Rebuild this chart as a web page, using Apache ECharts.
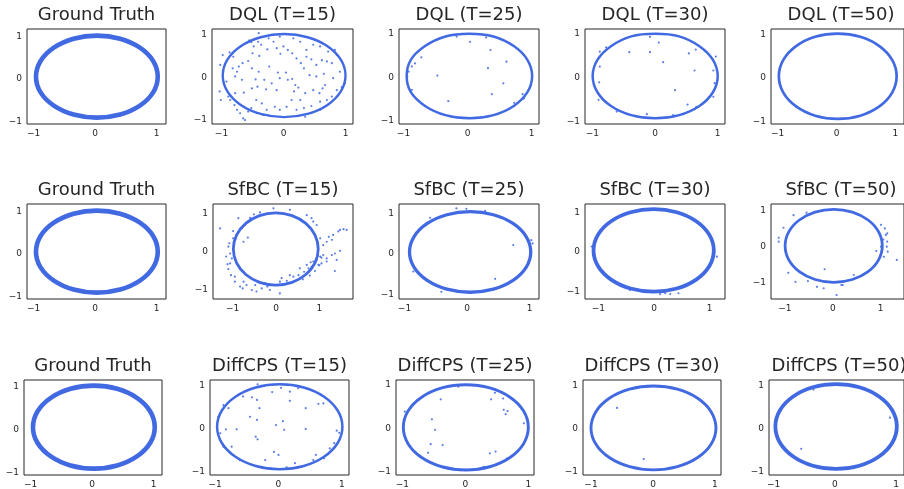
<!DOCTYPE html>
<html><head><meta charset="utf-8">
<script src="https://cdn.jsdelivr.net/npm/echarts@6/dist/echarts.min.js"></script>
<style>html,body{margin:0;padding:0;background:#fff}#c{width:904px;height:489px}</style>
</head><body><div id="c"></div>
<script>
const titles = ['Ground Truth','DQL (T=15)','DQL (T=25)','DQL (T=30)','DQL (T=50)',
  'Ground Truth','SfBC (T=15)','SfBC (T=25)','SfBC (T=30)','SfBC (T=50)',
  'Ground Truth','DiffCPS (T=15)','DiffCPS (T=25)','DiffCPS (T=30)','DiffCPS (T=50)'];
const tickValues = [-1, 0, 1];

// ring centre-lines
const ring_GT = [[1.02,0.055],[0.945,0.425],[0.73,0.737],[0.409,0.947],[0.03,1.02],[-0.349,0.947],[-0.67,0.737],[-0.885,0.425],[-0.96,0.055],[-0.885,-0.315],[-0.67,-0.627],[-0.349,-0.837],[0.03,-0.91],[0.409,-0.837],[0.73,-0.627],[0.945,-0.315]];
const ring_DQL15 = [[1.0,0.04],[0.925,0.411],[0.71,0.726],[0.389,0.936],[0.01,1.01],[-0.369,0.936],[-0.69,0.726],[-0.905,0.411],[-0.98,0.04],[-0.905,-0.331],[-0.69,-0.646],[-0.369,-0.856],[0.01,-0.93],[0.389,-0.856],[0.71,-0.646],[0.925,-0.331]];
const ring_DQL25 = [[1.01,0.03],[0.936,0.404],[0.723,0.721],[0.405,0.942],[0.03,1.007],[-0.345,0.942],[-0.663,0.721],[-0.885,0.404],[-0.95,0.03],[-0.885,-0.344],[-0.663,-0.661],[-0.345,-0.873],[0.03,-0.947],[0.405,-0.873],[0.723,-0.661],[0.936,-0.344]];
const ring_DQL30 = [[1.0,0.033],[0.924,0.403],[0.708,0.717],[0.385,0.942],[0.003,1.0],[-0.379,0.942],[-0.702,0.717],[-0.918,0.403],[-0.994,0.033],[-0.918,-0.337],[-0.702,-0.651],[-0.379,-0.861],[0.003,-0.934],[0.385,-0.861],[0.708,-0.651],[0.924,-0.337]];
const ring_DQL50 = [[1.02,0.04],[0.944,0.417],[0.727,0.736],[0.403,0.95],[0.02,1.025],[-0.363,0.95],[-0.687,0.736],[-0.904,0.417],[-0.98,0.04],[-0.904,-0.337],[-0.687,-0.656],[-0.363,-0.87],[0.02,-0.945],[0.403,-0.87],[0.727,-0.656],[0.944,-0.337]];
const ring_SfBC15 = [[0.975,0.08],[0.901,0.444],[0.688,0.752],[0.37,0.958],[-0.005,1.03],[-0.38,0.958],[-0.698,0.752],[-0.911,0.444],[-0.985,0.08],[-0.911,-0.284],[-0.698,-0.592],[-0.38,-0.798],[-0.005,-0.87],[0.37,-0.798],[0.688,-0.592],[0.901,-0.284]];
const ring_SfBC25 = [[1.02,0.05],[0.946,0.429],[0.736,0.75],[0.422,0.965],[0.05,1.04],[-0.322,0.965],[-0.636,0.75],[-0.846,0.429],[-0.92,0.05],[-0.846,-0.329],[-0.636,-0.65],[-0.322,-0.865],[0.05,-0.94],[0.422,-0.865],[0.736,-0.65],[0.946,-0.329]];
const ring_SfBC30 = [[1.074,0.04],[0.992,0.442],[0.758,0.782],[0.408,1.01],[-0.006,1.09],[-0.42,1.01],[-0.77,0.782],[-1.004,0.442],[-1.086,0.04],[-1.004,-0.362],[-0.77,-0.702],[-0.42,-0.93],[-0.006,-1.01],[0.408,-0.93],[0.758,-0.702],[0.992,-0.362]];
const ring_SfBC50 = [[1.037,0.025],[0.96,0.416],[0.739,0.746],[0.41,0.967],[0.02,1.045],[-0.37,0.967],[-0.699,0.746],[-0.92,0.416],[-0.997,0.025],[-0.92,-0.366],[-0.699,-0.696],[-0.37,-0.917],[0.02,-0.995],[0.41,-0.917],[0.739,-0.696],[0.96,-0.366]];
const ring_DiffCPS15 = [[1.01,0.04],[0.935,0.415],[0.72,0.733],[0.399,0.946],[0.02,1.02],[-0.359,0.946],[-0.68,0.733],[-0.895,0.415],[-0.97,0.04],[-0.895,-0.335],[-0.68,-0.653],[-0.359,-0.866],[0.02,-0.94],[0.399,-0.866],[0.72,-0.653],[0.935,-0.335]];
const ring_DiffCPS25 = [[1.0,0.027],[0.925,0.402],[0.709,0.72],[0.388,0.933],[0.008,1.007],[-0.372,0.933],[-0.693,0.72],[-0.909,0.402],[-0.984,0.027],[-0.909,-0.348],[-0.693,-0.666],[-0.372,-0.879],[0.008,-0.953],[0.388,-0.879],[0.709,-0.666],[0.925,-0.348]];
const ring_DiffCPS30 = [[1.016,0.025],[0.939,0.398],[0.721,0.714],[0.394,0.926],[0.008,1.0],[-0.378,0.926],[-0.705,0.714],[-0.923,0.398],[-1.0,0.025],[-0.923,-0.348],[-0.705,-0.664],[-0.378,-0.876],[0.008,-0.95],[0.394,-0.876],[0.721,-0.664],[0.939,-0.348]];
const ring_DiffCPS50 = [[1.012,0.046],[0.937,0.421],[0.721,0.739],[0.4,0.952],[0.02,1.026],[-0.36,0.952],[-0.681,0.739],[-0.897,0.421],[-0.972,0.046],[-0.897,-0.329],[-0.681,-0.647],[-0.36,-0.86],[0.02,-0.934],[0.4,-0.86],[0.721,-0.647],[0.937,-0.329]];

// stray samples
const out_DQL15 = [[-0.40,1.03],[-0.55,0.86],[-0.52,0.82],[-0.41,0.83],[-0.36,0.76],[-0.48,0.72],[-0.26,0.65],[-0.11,0.68],[-0.05,0.55],[-0.50,0.56],[-0.39,0.50],[-0.87,0.58],[-0.98,0.52],[-0.81,0.48],[-0.57,0.38],[-0.66,0.33],[-0.72,0.25],[-0.82,0.21],[-0.75,0.13],[-0.51,0.21],[-0.40,0.13],[-0.23,0.25],[-0.09,0.11],[-0.06,-0.02],[0.07,-0.06],[0.14,-0.04],[0.04,0.11],[0.19,-0.18],[0.17,-0.33],[0.24,-0.24],[0.37,0.64],[0.37,0.48],[0.45,0.42],[0.53,0.29],[0.62,0.40],[0.70,0.37],[0.78,0.33],[0.86,0.52],[0.91,0.13],[0.80,-0.02],[0.67,-0.18],[0.63,-0.26],[0.58,-0.37],[0.48,-0.30],[0.35,-0.37],[0.27,-0.53],[0.13,-0.53],[0.05,-0.69],[-0.06,-0.76],[-0.14,-0.69],[-0.27,-0.76],[-0.35,-0.61],[-0.44,-0.53],[-0.52,-0.72],[-0.57,-0.80],[-0.65,-0.96],[-0.75,-0.76],[-0.79,-0.65],[-0.86,-0.53],[-0.89,-0.45],[-0.78,-0.37],[-0.64,-0.36],[-0.51,-0.26],[-0.42,-0.22],[-0.28,-0.28],[-0.19,-0.14],[-0.11,-0.30],[-0.31,-0.06],[-0.45,-0.05],[-0.67,-0.06],[-0.78,0.02],[-0.92,-0.10],[-0.97,0.13],[-1.02,0.29],[-1.03,-0.33],[-1.01,-0.53],[0.21,-0.76],[0.33,-0.72],[0.45,-0.67],[0.59,-0.57],[0.70,-0.53],[0.78,-0.45],[0.86,-0.30],[0.94,-0.23],[0.99,-0.14],[0.65,0.08],[0.53,0.02],[0.42,0.05],[0.33,0.21],[0.28,0.33],[0.21,0.44],[0.14,0.56],[0.07,0.64],[0.0,0.72],[-0.16,0.83],[-0.24,0.91],[-0.06,0.95],[0.16,0.91],[0.27,0.83],[0.48,0.76],[0.59,0.72],[0.72,0.60],[0.83,0.64],[0.35,-0.92],[0.45,-0.84],[0.59,-0.76],[-0.33,-0.88],[-0.43,-0.84],[-0.70,-0.84],[-0.62,-1.00]];
const out_DQL25 = [[0.04,0.82],[0.36,0.63],[0.61,0.36],[0.32,0.21],[-0.47,0.04],[0.56,-0.14],[0.38,-0.39],[-0.30,-0.55],[0.73,-0.59],[0.86,-0.39],[0.88,-0.49],[-0.82,0.32],[-0.72,0.46],[-0.87,0.25],[-0.92,0.13],[-0.94,0.01],[-0.87,-0.29],[-0.85,-0.41],[0.29,0.92],[0.39,0.95],[-0.17,0.94]];
const out_DQL30 = [[0.06,0.80],[-0.08,0.58],[-0.41,0.58],[0.54,0.55],[0.65,0.64],[0.97,0.48],[0.13,0.35],[0.63,0.16],[0.93,0.16],[-0.88,0.25],[-0.89,-0.11],[0.32,-0.29],[0.95,-0.13],[0.52,-0.62],[0.66,-0.67],[0.29,-0.86],[-0.13,-0.84],[-0.08,0.93],[-0.88,0.59],[-0.78,0.69],[-0.90,-0.51],[-0.61,-0.78],[0.93,-0.44]];
const out_DQL50 = [];
const out_SfBC15 = [[-1.29,0.62],[-0.87,0.89],[-0.99,0.55],[-1.08,0.23],[-1.10,0.14],[-1.06,-0.04],[-1.15,-0.12],[-1.06,-0.30],[-1.12,-0.32],[-1.04,-0.61],[-0.95,-0.78],[-0.83,-0.91],[-0.68,-0.87],[-0.56,-1.00],[-0.45,-1.04],[-0.33,-0.96],[-0.20,-0.91],[-0.06,-0.87],[0.09,-0.78],[0.25,-0.76],[0.40,-0.65],[0.52,-0.61],[0.65,-0.52],[0.75,-0.43],[0.82,-0.39],[0.86,-0.25],[0.94,-0.21],[1.02,-0.12],[1.09,-0.08],[1.17,-0.17],[1.05,-0.30],[0.98,-0.34],[1.17,-0.25],[1.29,-0.08],[1.36,-0.04],[1.48,0.03],[1.40,-0.21],[1.36,-0.50],[1.22,0.40],[1.32,0.45],[1.44,0.54],[1.56,0.60],[1.63,0.58],[1.48,0.58],[1.29,0.32],[1.17,0.27],[1.09,0.18],[1.02,0.36],[0.94,0.71],[0.86,0.80],[0.82,0.89],[0.71,0.97],[0.32,1.11],[-0.06,1.15],[-0.37,1.04],[-0.51,0.99],[-0.60,0.90],[-0.79,0.62],[-0.72,0.71],[-0.91,0.45],[-0.99,0.36],[-1.02,-0.17],[-1.10,-0.45],[-0.95,-0.65],[-0.75,-0.78],[-0.48,-0.87],[-0.25,-0.82],[0.13,-0.69],[0.32,-0.61],[0.55,-0.43],[0.71,-0.34],[0.80,-0.27],[0.09,-1.09],[-0.14,-1.00],[-0.77,-0.96],[-0.41,-0.78],[-0.75,0.27],[-0.65,0.38],[1.05,-0.15],[1.0,-0.35],[0.9,-0.5],[0.78,-0.62],[0.62,-0.72]];
const out_SfBC25 = [[-0.17,1.12],[-0.01,1.11],[-0.59,0.89],[0.74,0.22],[0.45,-0.61],[-0.86,-0.43],[-0.41,-0.93],[0.29,1.06],[0.58,0.89],[1.03,0.34],[1.05,0.26]];
const out_SfBC30 = [[0.11,-1.07],[0.20,-1.05],[0.29,-1.07],[0.44,-1.05],[-0.07,-1.01],[-0.43,-0.97],[1.13,-0.12],[-1.12,0.14],[-0.91,-0.50],[-0.82,-0.67]];
const out_SfBC50 = [[-0.82,0.88],[-1.03,0.53],[-1.13,0.25],[-1.13,0.14],[-0.93,-0.73],[-0.17,-0.63],[-0.55,0.95],[0.91,-0.12],[1.06,0.20],[1.11,0.33],[1.14,0.14],[1.13,0.00],[1.15,-0.14],[1.07,-0.28],[1.09,0.51],[1.14,0.37],[1.01,0.0],[-0.33,-1.12],[-0.19,-1.16],[0.08,-1.35],[0.21,-1.07],[-0.52,-0.96],[-0.78,-0.98],[0.18,-1.07],[0.44,-0.79],[1.34,-0.37],[1.01,0.61]];
const out_DiffCPS15 = [[-0.33,1.02],[-0.10,0.84],[0.04,0.94],[0.18,0.85],[0.31,0.93],[-0.56,0.74],[-0.42,0.72],[-0.34,0.66],[-0.87,0.54],[-0.79,0.47],[-0.30,0.47],[-0.45,0.27],[-0.34,0.20],[0.18,0.64],[0.63,0.57],[0.71,0.58],[0.43,0.47],[-0.83,-0.02],[-0.66,-0.02],[-0.04,0.08],[0.07,0.17],[0.09,-0.03],[0.43,-0.01],[0.92,-0.05],[0.96,-0.10],[-0.36,-0.19],[-0.33,-0.25],[-0.74,-0.42],[-0.07,-0.54],[0.0,-0.61],[0.59,-0.61],[0.55,-0.73],[0.72,-0.69],[-0.43,-0.84],[-0.13,-0.92],[0.13,-0.90],[0.81,-0.46],[0.88,-0.34],[-0.95,0.27],[-0.92,-0.11],[0.26,-0.80],[-0.21,-0.73],[-0.61,-0.73],[-0.87,-0.42]];
const out_DiffCPS25 = [[-0.39,0.67],[0.41,0.67],[0.47,0.82],[0.60,0.69],[0.61,0.43],[0.67,0.40],[0.64,0.33],[-0.53,0.21],[-0.48,-0.03],[-0.96,0.39],[0.93,0.12],[-0.55,-0.36],[-0.59,-0.56],[-0.36,-0.38],[0.39,-0.57],[0.48,-0.53],[0.66,-0.69],[0.29,-0.88],[-0.11,0.96],[-0.68,0.73]];
const out_DiffCPS30 = [[-0.58,0.49],[-0.15,-0.70]];
const out_DiffCPS50 = [[-0.55,-0.47],[0.90,0.25],[-0.35,0.90]];

const rings = [ring_GT, ring_DQL15, ring_DQL25, ring_DQL30, ring_DQL50,
  ring_GT, ring_SfBC15, ring_SfBC25, ring_SfBC30, ring_SfBC50,
  ring_GT, ring_DiffCPS15, ring_DiffCPS25, ring_DiffCPS30, ring_DiffCPS50];
const outs = [[], out_DQL15, out_DQL25, out_DQL30, out_DQL50,
  [], out_SfBC15, out_SfBC25, out_SfBC30, out_SfBC50,
  [], out_DiffCPS15, out_DiffCPS25, out_DiffCPS30, out_DiffCPS50];

// layout: grid box (px), axis extents, ring stroke width
const layout = [
  {l:27,t:29,w:139,x:[-1.106,1.154],y:[-1.059,1.176],lw:4.6},
  {l:212,t:29,w:141,x:[-1.153,1.121],y:[-1.091,1.128],lw:2.4},
  {l:399,t:29,w:140,x:[-1.070,1.117],y:[-1.078,1.115],lw:2.5},
  {l:585,t:29,w:140,x:[-1.116,1.116],y:[-1.064,1.11],lw:2.5},
  {l:771,t:29,w:140,x:[-1.113,1.145],y:[-1.062,1.13],lw:2.7},
  {l:27,t:204,w:139,x:[-1.106,1.154],y:[-1.059,1.176],lw:4.6},
  {l:213,t:204,w:140,x:[-1.455,1.778],y:[-1.237,1.263],lw:2.8},
  {l:399,t:204,w:140,x:[-1.088,1.152],y:[-1.106,1.229],lw:3.3},
  {l:585,t:204,w:140,x:[-1.239,1.275],y:[-1.196,1.221],lw:3.8},
  {l:771,t:204,w:140,x:[-1.292,1.491],y:[-1.461,1.193],lw:2.8},
  {l:24,t:380,w:138,x:[-1.106,1.138],y:[-1.058,1.151],lw:4.6},
  {l:210,t:380,w:139,x:[-1.082,1.114],y:[-1.074,1.12],lw:2.5},
  {l:396,t:380,w:138,x:[-1.1,1.09],y:[-1.069,1.115],lw:2.9},
  {l:583,t:380,w:138,x:[-1.129,1.097],y:[-1.07,1.14],lw:2.9},
  {l:769,t:380,w:140,x:[-1.076,1.129],y:[-1.074,1.12],lw:3.8}
];
const H = 95;
const TXT = '#262626';
const BLUE = '#4169E1';
const FONT = 'DejaVu Sans';
const fmt = v => v < 0 ? '\u2212' + Math.abs(v) : String(v);

const option = {animation:false, backgroundColor:'#fff',
  title:[], grid:[], xAxis:[], yAxis:[], series:[]};
layout.forEach((p, i) => {
  option.title.push({text: titles[i], left: p.l + p.w/2, top: p.t - 23, textAlign:'center', padding:0,
    textStyle:{fontFamily:FONT, fontSize:18, fontWeight:'normal', color:TXT}});
  option.grid.push({left:p.l, top:p.t, width:p.w, height:H, show:true, borderColor:TXT, borderWidth:1, containLabel:false});
  const axisCommon = {type:'value', gridIndex:i, splitLine:{show:false}, axisLine:{show:false}, axisTick:{show:false},
    axisLabel:{customValues:tickValues, formatter:fmt, fontFamily:FONT, fontSize:9, color:TXT, margin:5}};
  option.xAxis.push(Object.assign({}, axisCommon, {min:p.x[0], max:p.x[1]}));
  option.yAxis.push(Object.assign({}, axisCommon, {min:p.y[0], max:p.y[1]}));
  const ring = rings[i];
  option.series.push({type:'custom', xAxisIndex:i, yAxisIndex:i, data:[ring[0]], z:2,
    renderItem: (params, api) => ({
      type:'polygon',
      shape:{points: ring.map(pt => api.coord(pt)), smooth:0.34},
      style:{fill:'none', stroke:BLUE, lineWidth:p.lw}
    })});
  option.series.push({type:'scatter', xAxisIndex:i, yAxisIndex:i, data:outs[i], symbolSize:2.2,
    itemStyle:{color:BLUE, opacity:0.85}, z:3});
});
const chart = echarts.init(document.getElementById('c'), null, {renderer:'canvas'});
chart.setOption(option);
</script></body></html>
